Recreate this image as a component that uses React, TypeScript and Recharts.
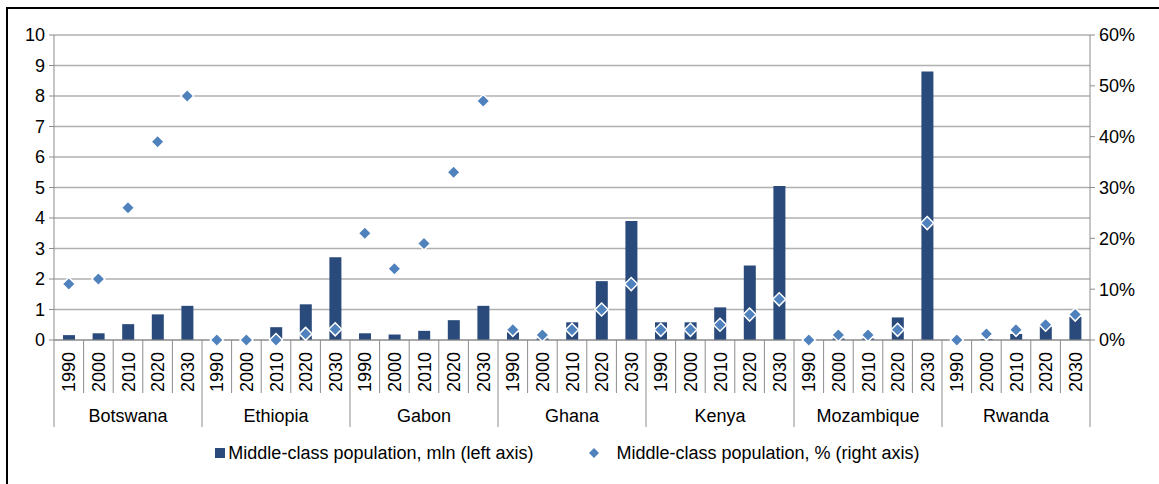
import { Bar, CartesianGrid, ComposedChart, Legend, Scatter, XAxis, YAxis } from "recharts";

const countries = ["Botswana", "Ethiopia", "Gabon", "Ghana", "Kenya", "Mozambique", "Rwanda"];
const years = ["1990", "2000", "2010", "2020", "2030"];

// middle-class population, mln (left axis)
const mlnBotswana = [0.16, 0.22, 0.52, 0.84, 1.12];
const mlnEthiopia = [0, 0, 0.42, 1.17, 2.71];
const mlnGabon = [0.22, 0.18, 0.3, 0.65, 1.12];
const mlnGhana = [0.25, 0.05, 0.58, 1.93, 3.9];
const mlnKenya = [0.58, 0.58, 1.07, 2.44, 5.05];
const mlnMozambique = [0, 0.05, 0.05, 0.74, 8.8];
const mlnRwanda = [0, 0.03, 0.2, 0.44, 0.76];

// middle-class population, % (right axis)
const pctBotswana = [11, 12, 26, 39, 48];
const pctEthiopia = [0, 0, 0, 1.2, 2.1];
const pctGabon = [21, 14, 19, 33, 47];
const pctGhana = [2, 1, 2, 6, 11];
const pctKenya = [2, 2, 3, 5, 8];
const pctMozambique = [0, 1, 1, 2, 23];
const pctRwanda = [0, 1.2, 2, 3, 5];

const leftTicks = [0, 1, 2, 3, 4, 5, 6, 7, 8, 9, 10];
const rightTicks = [0, 10, 20, 30, 40, 50, 60];

const mlnByCountry = [mlnBotswana, mlnEthiopia, mlnGabon, mlnGhana, mlnKenya, mlnMozambique, mlnRwanda];
const pctByCountry = [pctBotswana, pctEthiopia, pctGabon, pctGhana, pctKenya, pctMozambique, pctRwanda];

const rows = countries.flatMap((country, c) =>
  years.map((year, y) => ({
    id: `${country}-${year}`,
    country,
    year,
    mln: mlnByCountry[c][y],
    pct: pctByCountry[c][y],
  }))
);

const W = 1159;
const H = 484;
const LEFT_W = 54;
const RIGHT_W = 69;
const BAND = (W - LEFT_W - RIGHT_W) / rows.length;
const FONT = "'Liberation Sans', Arial, sans-serif";
const FS = 18;
const AXIS = "#8c8c8c";
const GRID = "#b0b0b0";
const BAR = "#294a7b";
const DOT = "#4f81bd";

const CategoryTick = (props: any) => {
  const { x, y, index } = props;
  const row = rows[index];
  if (!row) return null;
  const groupStart = index % years.length === 0;
  const last = index === rows.length - 1;
  return (
    <g>
      <line x1={x - BAND / 2} x2={x - BAND / 2} y1={y} y2={y + (groupStart ? 87 : 53)} stroke={AXIS} />
      {last && <line x1={x + BAND / 2} x2={x + BAND / 2} y1={y} y2={y + 87} stroke={AXIS} />}
      <text
        transform={`translate(${x + 6.5},${y + 12}) rotate(-90)`}
        textAnchor="end"
        fontSize={FS}
        fill="#000"
      >
        {row.year}
      </text>
      {index % years.length === 2 && (
        <text x={x} y={y + 82} textAnchor="middle" fontSize={FS} fill="#000">
          {row.country}
        </text>
      )}
    </g>
  );
};

const Diamond = (props: any) => {
  const { cx, cy } = props;
  const r = 6.5;
  return (
    <polygon
      points={`${cx},${cy - r} ${cx + r},${cy} ${cx},${cy + r} ${cx - r},${cy}`}
      fill={DOT}
      stroke="#fff"
      strokeWidth={1.5}
    />
  );
};

const LegendBox = () => (
  <div
    style={{
      height: 30,
      display: "flex",
      alignItems: "center",
      justifyContent: "center",
      fontSize: FS,
      fontFamily: FONT,
      color: "#000",
      paddingRight: 24,
    }}
  >
    <span style={{ display: "inline-block", width: 10, height: 10, background: BAR, marginRight: 3 }} />
    <span>Middle-class population, mln (left axis)</span>
    <svg width={10} height={10} style={{ marginLeft: 56, marginRight: 17 }}>
      <polygon points="5,0 10,5 5,10 0,5" fill={DOT} />
    </svg>
    <span>Middle-class population, % (right axis)</span>
  </div>
);

export default function App() {
  return (
    <div style={{ position: "absolute", left: 0, top: 0, width: W, height: H, background: "#fff", fontFamily: FONT }}>
      <div
        style={{
          position: "absolute",
          left: 6,
          top: 7,
          right: 0,
          bottom: 0,
          borderTop: "2px solid #000",
          borderLeft: "2px solid #000",
        }}
      />
      <ComposedChart
        width={W}
        height={H}
        data={rows}
        margin={{ top: 35, right: 0, bottom: 16, left: 0 }}
        style={{ position: "absolute", left: 0, top: 0 }}
      >
        <CartesianGrid yAxisId="left" vertical={false} stroke={GRID} strokeWidth={1.5} />
        <XAxis
          dataKey="id"
          height={98}
          interval={0}
          tickLine={false}
          tickSize={0}
          tickMargin={0}
          axisLine={{ stroke: AXIS }}
          tick={<CategoryTick />}
        />
        <YAxis
          yAxisId="left"
          width={LEFT_W}
          domain={[0, 10]}
          ticks={leftTicks}
          interval={0}
          tickSize={5}
          tickMargin={4}
          axisLine={{ stroke: AXIS }}
          tickLine={{ stroke: AXIS }}
          tick={{ fill: "#000", fontSize: FS }}
        />
        <YAxis
          yAxisId="right"
          orientation="right"
          width={RIGHT_W}
          domain={[0, 60]}
          ticks={rightTicks}
          interval={0}
          tickSize={5}
          tickMargin={4}
          tickFormatter={(v) => `${v}%`}
          axisLine={{ stroke: AXIS }}
          tickLine={{ stroke: AXIS }}
          tick={{ fill: "#000", fontSize: FS }}
        />
        <Legend verticalAlign="bottom" content={<LegendBox />} />
        <Bar
          yAxisId="left"
          dataKey="mln"
          name="Middle-class population, mln (left axis)"
          fill={BAR}
          barSize={12}
          isAnimationActive={false}
        />
        <Scatter
          yAxisId="right"
          dataKey="pct"
          name="Middle-class population, % (right axis)"
          shape={<Diamond />}
          isAnimationActive={false}
        />
      </ComposedChart>
    </div>
  );
}
